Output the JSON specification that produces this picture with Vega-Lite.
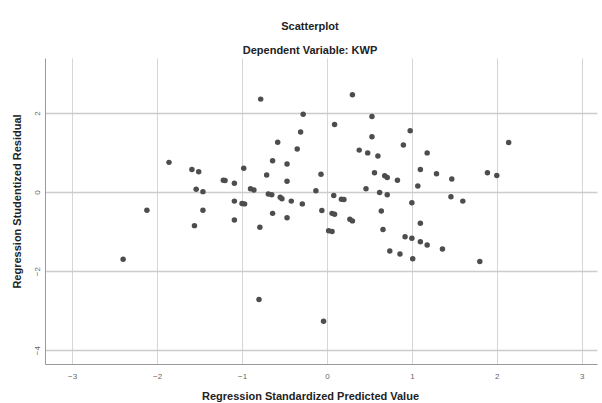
{
  "$schema": "https://vega.github.io/schema/vega-lite/v6.json",
  "width": 552,
  "height": 306,
  "autosize": {"type": "none"},
  "padding": {"left": 45, "top": 58, "right": 5, "bottom": 39},
  "background": "white",
  "title": {
    "text": "Scatterplot",
    "subtitle": "Dependent Variable: KWP",
    "anchor": "middle",
    "dx": -11,
    "offset": 2,
    "font": "Liberation Sans",
    "fontSize": 11,
    "fontWeight": "bold",
    "color": "#222222",
    "subtitleFont": "Liberation Sans",
    "subtitleFontSize": 11,
    "subtitleFontWeight": "bold",
    "subtitleColor": "#222222",
    "subtitlePadding": 13
  },
  "config": {
    "view": {"stroke": null},
    "axis": {
      "labelFont": "Liberation Sans",
      "titleFont": "Liberation Sans",
      "labelFontSize": 8,
      "labelColor": "#666666",
      "titleFontSize": 11,
      "titleFontWeight": "bold",
      "titleColor": "#222222",
      "domainColor": "#999999",
      "ticks": false
    }
  },
  "data": {
    "values": [
      {"x": -2.40, "y": -1.70}, {"x": -2.12, "y": -0.46}, {"x": -1.86, "y": 0.75}, {"x": -1.59, "y": 0.57},
      {"x": -1.51, "y": 0.51}, {"x": -1.54, "y": 0.07}, {"x": -1.46, "y": 0.01}, {"x": -1.46, "y": -0.46},
      {"x": -1.56, "y": -0.85}, {"x": -1.22, "y": 0.30}, {"x": -1.20, "y": 0.29}, {"x": -1.09, "y": 0.22},
      {"x": -0.98, "y": 0.60}, {"x": -1.09, "y": -0.23}, {"x": -1.00, "y": -0.29}, {"x": -0.97, "y": -0.30},
      {"x": -1.09, "y": -0.71}, {"x": -0.90, "y": 0.08}, {"x": -0.86, "y": 0.05}, {"x": -0.78, "y": 2.35},
      {"x": -0.79, "y": -0.89}, {"x": -0.80, "y": -2.72}, {"x": -0.71, "y": 0.43}, {"x": -0.64, "y": 0.79},
      {"x": -0.64, "y": -0.54}, {"x": -0.58, "y": 1.26}, {"x": -0.69, "y": -0.05}, {"x": -0.65, "y": -0.07},
      {"x": -0.55, "y": -0.13}, {"x": -0.53, "y": -0.17}, {"x": -0.47, "y": 0.71}, {"x": -0.47, "y": 0.27},
      {"x": -0.47, "y": -0.65}, {"x": -0.42, "y": -0.23}, {"x": -0.35, "y": 1.09}, {"x": -0.31, "y": 1.52},
      {"x": -0.28, "y": 1.97}, {"x": -0.29, "y": -0.30}, {"x": -0.13, "y": 0.03}, {"x": -0.07, "y": 0.45},
      {"x": -0.06, "y": -0.47}, {"x": -0.04, "y": -3.27}, {"x": 0.06, "y": -0.54}, {"x": 0.09, "y": -0.56},
      {"x": 0.02, "y": -0.98}, {"x": 0.06, "y": -1.00}, {"x": 0.08, "y": -0.09}, {"x": 0.09, "y": 1.71},
      {"x": 0.17, "y": -0.18}, {"x": 0.20, "y": -0.19}, {"x": 0.27, "y": -0.69}, {"x": 0.30, "y": -0.73},
      {"x": 0.30, "y": 2.46}, {"x": 0.38, "y": 1.06}, {"x": 0.46, "y": 0.08}, {"x": 0.48, "y": 0.99},
      {"x": 0.53, "y": 1.91}, {"x": 0.53, "y": 1.40}, {"x": 0.56, "y": 0.49}, {"x": 0.60, "y": 0.91},
      {"x": 0.62, "y": -0.01}, {"x": 0.64, "y": -0.48}, {"x": 0.66, "y": -0.95}, {"x": 0.68, "y": 0.41},
      {"x": 0.71, "y": 0.37}, {"x": 0.71, "y": -0.07}, {"x": 0.74, "y": -1.49}, {"x": 0.83, "y": 0.30},
      {"x": 0.86, "y": -1.57}, {"x": 0.90, "y": 1.19}, {"x": 0.92, "y": -1.13}, {"x": 0.98, "y": 1.55},
      {"x": 1.00, "y": -0.27}, {"x": 1.00, "y": -1.17}, {"x": 1.01, "y": -1.69}, {"x": 1.07, "y": 0.15},
      {"x": 1.10, "y": 0.57}, {"x": 1.10, "y": -0.79}, {"x": 1.10, "y": -1.26}, {"x": 1.18, "y": 0.99},
      {"x": 1.18, "y": -1.34}, {"x": 1.29, "y": 0.46}, {"x": 1.36, "y": -1.44}, {"x": 1.46, "y": -0.12},
      {"x": 1.47, "y": 0.33}, {"x": 1.60, "y": -0.23}, {"x": 1.80, "y": -1.76}, {"x": 1.89, "y": 0.49},
      {"x": 2.00, "y": 0.42}, {"x": 2.14, "y": 1.25}
    ]
  },
  "mark": {"type": "point", "filled": true, "size": 30, "color": "#4d4d4d", "opacity": 1},
  "encoding": {
    "x": {
      "field": "x",
      "type": "quantitative",
      "scale": {"domain": [-3.32, 3.18], "nice": false, "zero": false},
      "axis": {
        "title": "Regression Standardized Predicted Value",
        "values": [-3, -2, -1, 0, 1, 2, 3],
        "grid": true,
        "gridColor": "#d6d6d6",
        "gridWidth": 1,
        "labelPadding": 8,
        "titleX": 265,
        "titleY": 32,
        "titleBaseline": "middle"
      }
    },
    "y": {
      "field": "y",
      "type": "quantitative",
      "scale": {"domain": [-4.35, 3.39], "nice": false, "zero": false},
      "axis": {
        "title": "Regression Studentized Residual",
        "values": [-4, -2, 0, 2],
        "grid": true,
        "gridColor": "#cccccc",
        "gridWidth": 1.6,
        "labelAngle": -90,
        "labelPadding": 4,
        "labelAlign": "center",
        "labelBaseline": "bottom",
        "titleX": -28,
        "titleY": 143,
        "titleBaseline": "middle"
      }
    }
  }
}
